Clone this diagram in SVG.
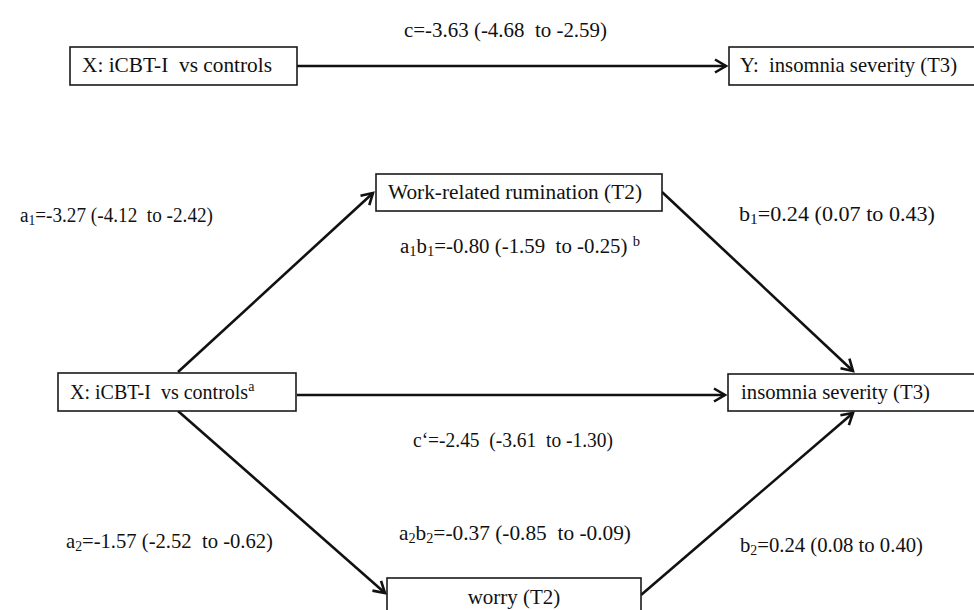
<svg xmlns="http://www.w3.org/2000/svg" width="974" height="610" viewBox="0 0 974 610">
<defs>
<style>
text{font-family:"Liberation Serif","Times New Roman",serif;font-size:20px;fill:#111;white-space:pre}
.box{fill:#fff;stroke:#1a1a1a;stroke-width:1.6}
.ln{stroke:#111;stroke-width:2.6;fill:none}
.sub{font-size:14px}
.cond{font-size:21px}
</style>
<marker id="ah" markerUnits="userSpaceOnUse" markerWidth="16" markerHeight="16" refX="13" refY="8" orient="auto" viewBox="0 0 16 16">
<path d="M2,1.5 L13,8 L2,14.5" fill="none" stroke="#111" stroke-width="2.6" stroke-linejoin="miter"/>
</marker>
</defs>
<g id="connectors">
<line class="ln" x1="297" y1="66" x2="726" y2="66" stroke-width="3.4" marker-end="url(#ah)"/>
<line class="ln" x1="297" y1="395" x2="725" y2="395" marker-end="url(#ah)"/>
<line class="ln" x1="178" y1="372" x2="373" y2="193" marker-end="url(#ah)"/>
<line class="ln" x1="662" y1="192" x2="853" y2="371" marker-end="url(#ah)"/>
<line class="ln" x1="178" y1="411" x2="385" y2="593" marker-end="url(#ah)"/>
<line class="ln" x1="641" y1="595" x2="853" y2="413" marker-end="url(#ah)"/>
</g>
<g id="node-x-top">
<rect class="box" x="70" y="47" width="227" height="38"/>
<text class="cond" x="82" y="72" textLength="190" lengthAdjust="spacingAndGlyphs">X: iCBT-I  vs controls</text>
</g>
<g id="node-y-top">
<rect class="box" x="729" y="47" width="250" height="38"/>
<text class="cond" x="740" y="72" textLength="217" lengthAdjust="spacingAndGlyphs">Y:  insomnia severity (T3)</text>
</g>
<g id="node-rumination">
<rect class="box" x="376" y="174" width="286" height="37"/>
<text x="388" y="199" textLength="254" lengthAdjust="spacingAndGlyphs">Work-related rumination (T2)</text>
</g>
<g id="node-x-mid">
<rect class="box" x="58" y="373" width="238" height="38"/>
<text x="70" y="399">X: iCBT-I  vs controls<tspan class="sub" dy="-8">a</tspan></text>
</g>
<g id="node-insomnia">
<rect class="box" x="728" y="374" width="250" height="37"/>
<text x="741" y="399" textLength="189" lengthAdjust="spacingAndGlyphs">insomnia severity (T3)</text>
</g>
<g id="node-worry">
<rect class="box" x="387" y="578" width="254" height="40"/>
<text class="cond" x="514" y="604" text-anchor="middle">worry (T2)</text>
</g>
<g id="labels">
<text class="cond" x="404" y="37" textLength="203" lengthAdjust="spacingAndGlyphs">c=-3.63 (-4.68  to -2.59)</text>
<text x="20" y="222" textLength="193" lengthAdjust="spacingAndGlyphs">a<tspan class="sub" dy="3">1</tspan><tspan dy="-3">=-3.27 (-4.12  to -2.42)</tspan></text>
<text x="400" y="253" textLength="240" lengthAdjust="spacingAndGlyphs">a<tspan class="sub" dy="3">1</tspan><tspan dy="-3">b</tspan><tspan class="sub" dy="3">1</tspan><tspan dy="-3">=-0.80 (-1.59  to -0.25) </tspan><tspan class="sub" dy="-7">b</tspan></text>
<text x="739" y="221" textLength="196" lengthAdjust="spacingAndGlyphs">b<tspan class="sub" dy="3">1</tspan><tspan dy="-3">=0.24 (0.07 to 0.43)</tspan></text>
<text x="413" y="447" textLength="200" lengthAdjust="spacingAndGlyphs">c‘=-2.45  (-3.61  to -1.30)</text>
<text class="cond" x="66" y="548" textLength="207" lengthAdjust="spacingAndGlyphs">a<tspan class="sub" dy="3">2</tspan><tspan dy="-3">=-1.57 (-2.52  to -0.62)</tspan></text>
<text class="cond" x="399" y="540" textLength="232" lengthAdjust="spacingAndGlyphs">a<tspan class="sub" dy="3">2</tspan><tspan dy="-3">b</tspan><tspan class="sub" dy="3">2</tspan><tspan dy="-3">=-0.37 (-0.85  to -0.09)</tspan></text>
<text class="cond" x="740" y="552" textLength="183" lengthAdjust="spacingAndGlyphs">b<tspan class="sub" dy="3">2</tspan><tspan dy="-3">=0.24 (0.08 to 0.40)</tspan></text>
</g>
</svg>
